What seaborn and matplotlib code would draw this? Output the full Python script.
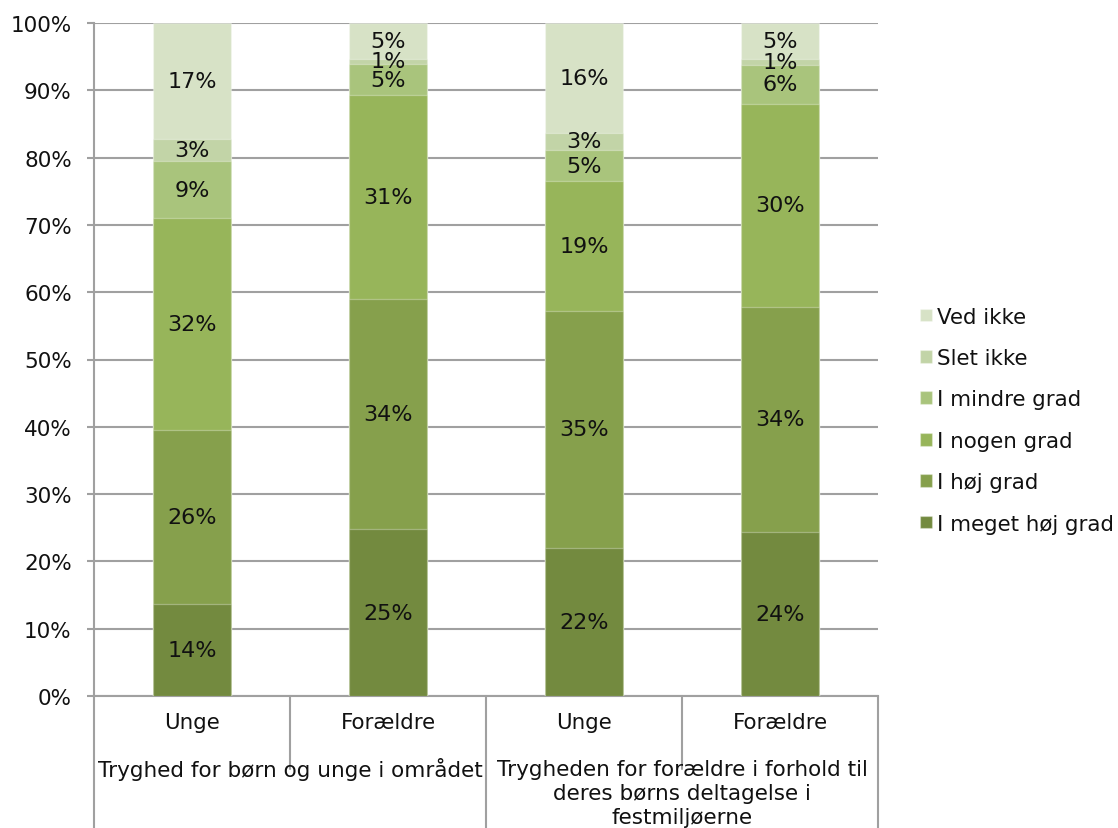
import numpy as np
import pandas as pd
import matplotlib
matplotlib.use("Agg")
import matplotlib.pyplot as plt
import matplotlib.transforms as mtransforms
import seaborn as sns

sns.set_style("white")
plt.rcParams['font.family'] = ['DejaVu Sans']

bars = ["Unge", "Forældre", "Unge ", "Forældre "]
bar_labels = ["Unge", "Forældre", "Unge", "Forældre"]
groups = ["Tryghed for børn og unge i området",
          "Trygheden for forældre i forhold til\nderes børns deltagelse i\nfestmiljøerne"]
series = ["I meget høj grad", "I høj grad", "I nogen grad", "I mindre grad", "Slet ikke", "Ved ikke"]
meget_hoej = [13.7, 24.8, 22.0, 24.4]
hoej = [25.8, 34.2, 35.2, 33.4]
nogen = [31.5, 30.3, 19.3, 30.2]
mindre = [8.5, 4.6, 4.6, 5.8]
slet = [3.3, 0.8, 2.6, 0.9]
ved_ikke = [17.2, 5.3, 16.3, 5.3]
labels = [["14%", "25%", "22%", "24%"],
          ["26%", "34%", "35%", "34%"],
          ["32%", "31%", "19%", "30%"],
          ["9%", "5%", "5%", "6%"],
          ["3%", "1%", "3%", "1%"],
          ["17%", "5%", "16%", "5%"]]
colors = ["#738a3f", "#86a04c", "#97b55a", "#a9c47c", "#c2d4a7", "#d7e2c6"]

vals = np.array([meget_hoej, hoej, nogen, mindre, slet, ved_ikke])
cum = np.cumsum(vals, axis=0)

fig = plt.figure(figsize=(11.18, 8.29), dpi=100)
ax = fig.add_axes([94/1118, (829-697)/829, (878-94)/1118, (697-24)/829])

# draw cumulative bars from top series to bottom
for i in range(len(series) - 1, -1, -1):
    df = pd.DataFrame({"bar": bars, "value": cum[i]})
    sns.barplot(data=df, x="bar", y="value", color=colors[i], width=0.4,
                ax=ax, saturation=1, linewidth=0.9, edgecolor=(1, 1, 1, 0.3),
                zorder=3, label=series[i])

# labels
for i in range(len(series)):
    for j in range(len(bars)):
        ymid = cum[i][j] - vals[i][j] / 2
        ax.text(j, ymid, labels[i][j], ha="center", va="center", fontsize=16,
                color="#111111", zorder=5)

ax.set_ylim(0, 100)
ax.set_xlim(-0.5, 3.5)
ax.set_yticks(np.arange(0, 101, 10))
ax.set_yticklabels([f"{v}%" for v in range(0, 101, 10)], fontsize=15.5)
ax.yaxis.grid(True, color="#a0a0a0", linewidth=1.5, zorder=0)
ax.set_axisbelow(True)
ax.tick_params(axis="y", length=5, width=1.5, color="#a0a0a0", left=True, pad=11,
               labelcolor="#111111")
ax.set_xticks([])
ax.set_xlabel("")
ax.set_ylabel("")
for s in ["top", "right"]:
    ax.spines[s].set_visible(False)
for s in ["left", "bottom"]:
    ax.spines[s].set_color("#a0a0a0")
    ax.spines[s].set_linewidth(1.5)

# hierarchical category axis
trans = mtransforms.blended_transform_factory(ax.transData, ax.transAxes)
short_end = -(770 - 697) / 673
long_end = -(829 - 697) / 673
for x in [-0.5, 1.5, 3.5]:
    ax.plot([x, x], [0, long_end], transform=trans, color="#a0a0a0", lw=1.5, clip_on=False)
for x in [0.5, 2.5]:
    ax.plot([x, x], [0, short_end], transform=trans, color="#a0a0a0", lw=1.5, clip_on=False)
for j, lab in enumerate(bar_labels):
    ax.text(j, -(723 - 697) / 673, lab, transform=trans, ha="center", va="center",
            fontsize=15.4, color="#111111")
ax.text(0.5, -(770 - 697) / 673, groups[0], transform=trans, ha="center", va="center",
        fontsize=15.5, color="#111111")
ax.text(2.5, -(760 - 697) / 673, groups[1], transform=trans, ha="center", va="top",
        fontsize=15.5, linespacing=1.25, color="#111111")

# legend
handles, labs = ax.get_legend_handles_labels()
leg = ax.legend(handles, labs, loc="center left", bbox_to_anchor=(1.043, 0.41), frameon=False,
                fontsize=15.4, handlelength=0.55, handleheight=0.55, handletextpad=0.25,
                labelspacing=1.0, borderaxespad=0)
for t in leg.get_texts():
    t.set_color("#111111")

fig.savefig("out.png", dpi=100)
